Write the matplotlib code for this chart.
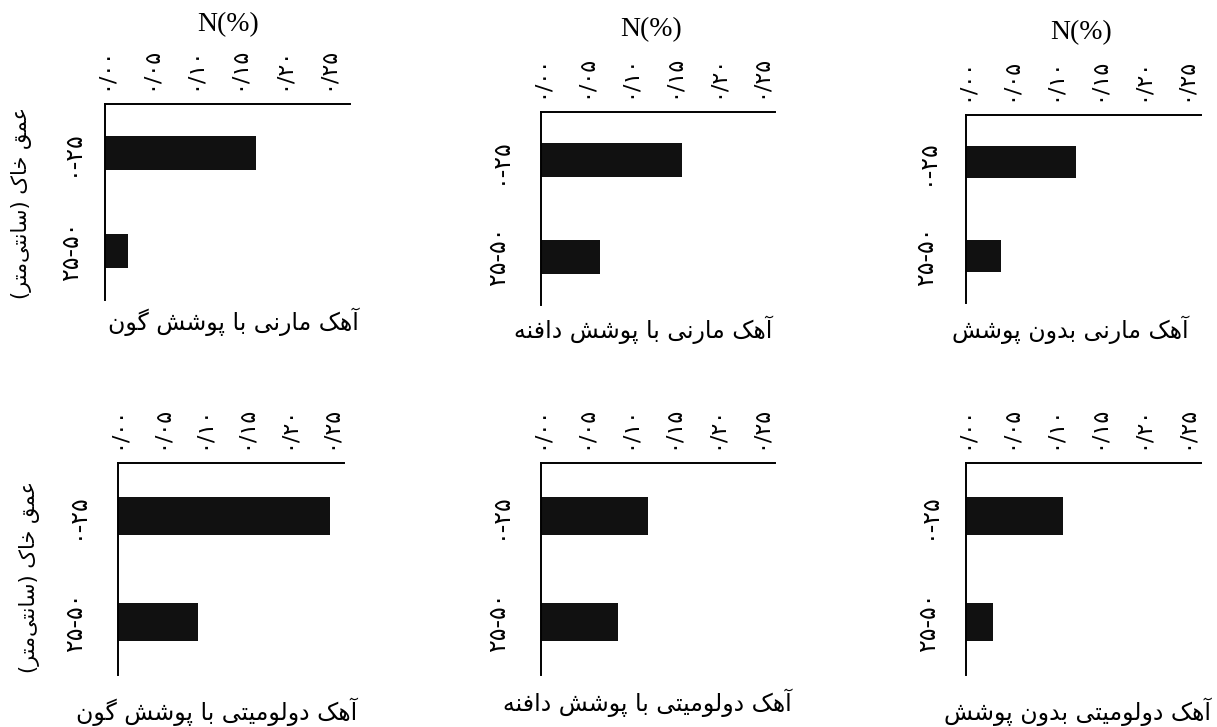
import matplotlib
matplotlib.use('Agg')
import matplotlib.pyplot as plt

# نیتروژن خاک در دو عمق، برای شش تیمار
depths = ['۰-۲۵', '۲۵-۵۰']
ticks = [0.0, 0.05, 0.10, 0.15, 0.20, 0.25]
tick_labels = ['۰/۰۰', '۰/۰۵', '۰/۱۰', '۰/۱۵', '۰/۲۰', '۰/۲۵']

marl_goon = [0.170, 0.026]
marl_daphne = [0.161, 0.067]
marl_bare = [0.125, 0.040]
dolo_goon = [0.251, 0.094]
dolo_daphne = [0.122, 0.088]
dolo_bare = [0.110, 0.031]

titles = ['آهک مارنی با پوشش گون', 'آهک مارنی با پوشش دافنه', 'آهک مارنی بدون پوشش',
          'آهک دولومیتی با پوشش گون', 'آهک دولومیتی با پوشش دافنه', 'آهک دولومیتی بدون پوشش']
ylabel = 'عمق خاک (سانتی\u200cمتر)'

# فرم‌های حروف: جدا، پایانی، آغازی، میانی
FORMS = {
    'ا': (0xFE8D, 0xFE8E, None, None),
    'آ': (0xFE81, 0xFE82, None, None),
    'ب': (0xFE8F, 0xFE90, 0xFE91, 0xFE92),
    'پ': (0xFB56, 0xFB57, 0xFB58, 0xFB59),
    'ت': (0xFE95, 0xFE96, 0xFE97, 0xFE98),
    'خ': (0xFEA5, 0xFEA6, 0xFEA7, 0xFEA8),
    'د': (0xFEA9, 0xFEAA, None, None),
    'ر': (0xFEAD, 0xFEAE, None, None),
    'س': (0xFEB1, 0xFEB2, 0xFEB3, 0xFEB4),
    'ش': (0xFEB5, 0xFEB6, 0xFEB7, 0xFEB8),
    'ع': (0xFEC9, 0xFECA, 0xFECB, 0xFECC),
    'ف': (0xFED1, 0xFED2, 0xFED3, 0xFED4),
    'ق': (0xFED5, 0xFED6, 0xFED7, 0xFED8),
    'ک': (0xFB8E, 0xFB8F, 0xFB90, 0xFB91),
    'گ': (0xFB92, 0xFB93, 0xFB94, 0xFB95),
    'ل': (0xFEDD, 0xFEDE, 0xFEDF, 0xFEE0),
    'م': (0xFEE1, 0xFEE2, 0xFEE3, 0xFEE4),
    'ن': (0xFEE5, 0xFEE6, 0xFEE7, 0xFEE8),
    'ه': (0xFEE9, 0xFEEA, 0xFEEB, 0xFEEC),
    'و': (0xFEED, 0xFEEE, None, None),
    'ی': (0xFBFC, 0xFBFD, 0xFBFE, 0xFBFF),
}


def fa(s):
    out = []
    for i, c in enumerate(s):
        if c not in FORMS:
            if c != '\u200c':
                out.append(c)
            continue
        prev = s[i - 1] if i > 0 else ''
        nxt = s[i + 1] if i + 1 < len(s) else ''
        jp = prev in FORMS and FORMS[prev][2] is not None
        jn = FORMS[c][2] is not None and nxt in FORMS
        iso, fin, ini, med = FORMS[c]
        if jp and jn:
            g = med
        elif jp:
            g = fin
        elif jn:
            g = ini
        else:
            g = iso
        out.append(chr(g))
    vis = ''.join(reversed(out))
    return vis.translate(str.maketrans('()', ')('))


W, H = 1217, 727
fig = plt.figure(figsize=(W / 100, H / 100), dpi=100)
plt.rcParams['font.family'] = ['DejaVu Sans']

# left, right, top, bottom (px), xmax
boxes = [(105, 350, 104, 300, 0.276), (541, 775, 112, 305, 0.267), (966, 1201, 115, 303, 0.268),
         (118, 344, 463, 675, 0.267), (541, 775, 463, 675, 0.268), (966, 1201, 463, 675, 0.267)]
data = [marl_goon, marl_daphne, marl_bare, dolo_goon, dolo_daphne, dolo_bare]
title_pos = [(233, 322), (643, 330), (1070, 330), (217, 712), (647, 703), (1078, 712)]
pads = [16, 22, 20, 22, 22, 19]

for k, (l, r, t, b, xmax) in enumerate(boxes):
    ax = fig.add_axes([l / W, 1 - b / H, (r - l) / W, (b - t) / H])
    ax.barh(range(len(depths)), data[k], height=0.35, color='#111111')
    ax.set_xlim(0, xmax)
    ax.set_ylim(1.5, -0.5)
    ax.xaxis.tick_top()
    ax.set_xticks(ticks)
    ax.set_xticklabels(tick_labels, rotation=90, fontsize=16)
    ax.set_yticks(range(len(depths)))
    ax.set_yticklabels(depths, rotation=90, fontsize=17, va='center')
    ax.tick_params(axis='x', length=0, pad=10)
    ax.tick_params(axis='y', length=0, pad=pads[k])
    for side in ['bottom', 'right']:
        ax.spines[side].set_visible(False)
    for side in ['top', 'left']:
        ax.spines[side].set_linewidth(1.4)
    tx, ty = title_pos[k]
    fig.text(tx / W, 1 - ty / H, fa(titles[k]), ha='center', va='center', fontsize=17)

for x, y in [(228, 25), (651, 30), (1081, 33)]:
    fig.text(x / W, 1 - y / H, 'N(%)', ha='center', va='center', fontsize=20,
             family='Liberation Serif')

for x, y in [(22, 203), (30, 577)]:
    fig.text(x / W, 1 - y / H, fa(ylabel), rotation=90, ha='center', va='center', fontsize=15)

fig.savefig('out.png', dpi=100)
